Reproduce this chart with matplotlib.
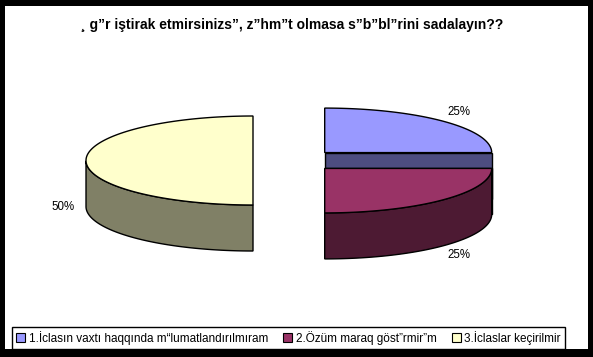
import numpy as np
import matplotlib
matplotlib.use("Agg")
import matplotlib.pyplot as plt
from matplotlib.patches import Polygon, Rectangle, Patch

plt.rcParams['font.family'] = ['Liberation Sans', 'DejaVu Sans']

# data
title = "¸ g”r iştirak etmirsinizs”, z”hm”t olmasa s”b”bl”rini sadalayın??"
labels = ["1.İclasın vaxtı haqqında m“lumatlandırılmıram",
          "2.Özüm maraq göst”rmir”m",
          "3.İclaslar keçirilmir"]
values = [25, 25, 50]
top_colors = ["#9999FF", "#993366", "#FFFFCC"]
side_colors = ["#4D4D80", "#4D1A33", "#808066"]

# pie geometry (pixels, y down)
W, H = 593, 357
cx0, cy0 = 295, 160.5
a, b = 167, 44.5
depth = 46
explode = 42

fig = plt.figure(figsize=(W / 100, H / 100), dpi=100, facecolor="black")
ax = fig.add_axes([0, 0, 1, 1])
ax.set_xlim(0, W)
ax.set_ylim(H, 0)
ax.axis("off")
ax.add_patch(Rectangle((5, 6), 583, 343, facecolor="white", edgecolor="none", zorder=0))

ax.text(292, 25, title, ha="center", va="center", fontsize=10, fontweight="bold")


def pt(cx, cy, th, dy=0):
    return (cx + a * np.cos(th), cy - b * np.sin(th) + dy)


total = sum(values)
start = 90.0
slices = []
for i, v in enumerate(values):
    sweep = 360.0 * v / total
    t1, t2 = start - sweep, start  # clockwise from 12 o'clock
    mid = np.radians((t1 + t2) / 2)
    cx = cx0 + explode * np.cos(mid)
    cy = cy0 - explode * np.sin(mid) * b / a
    slices.append((i, np.radians(t1), np.radians(t2), mid, cx, cy))
    start = t1

# draw back slices first (those whose centre sits higher)
for i, t1, t2, mid, cx, cy in sorted(slices, key=lambda s: s[5]):
    # radial face along the 0 deg cut, facing the viewer
    for th, sgn in ((t1, 1), (t2, -1)):
        if abs(np.sin(th)) < 1e-9 and np.cos(th) > 0 and sgn * np.sin(mid) > 0:
            p = pt(cx, cy, th)
            face = [(cx, cy), p, (p[0], p[1] + depth), (cx, cy + depth)]
            ax.add_patch(Polygon(face, closed=True, facecolor=side_colors[i],
                                 edgecolor="black", lw=1, zorder=2))
    # outer wall on the front half
    ths = np.linspace(t1, t2, 200)
    ths = ths[np.sin(ths) <= 1e-9]
    if len(ths) > 1:
        top = [pt(cx, cy, t) for t in ths]
        bot = [pt(cx, cy, t, depth) for t in ths[::-1]]
        ax.add_patch(Polygon(top + bot, closed=True, facecolor=side_colors[i],
                             edgecolor="black", lw=1, zorder=2))
    # top face
    arc = [pt(cx, cy, t) for t in np.linspace(t1, t2, 200)]
    ax.add_patch(Polygon([(cx, cy)] + arc, closed=True, facecolor=top_colors[i],
                         edgecolor="black", lw=1, zorder=3))
    # percentage label
    ly = cy - 1.3 * b * np.sin(mid) + (depth if np.sin(mid) <= 1e-9 else 0)
    lx = cx + 1.14 * a * np.cos(mid)
    ax.text(lx, ly, f"{values[i] / total * 100:.0f}%", ha="center", va="center",
            fontsize=8.3, zorder=4)

handles = [Patch(facecolor=c, edgecolor="black", lw=0.8) for c in top_colors]
ax.legend(handles, labels, loc="lower left", bbox_to_anchor=(12, 349),
          bbox_transform=ax.transData, ncol=3, fontsize=8.5, frameon=True,
          fancybox=False, edgecolor="black", framealpha=1, borderaxespad=0,
          handlelength=0.75, handleheight=0.75, handletextpad=0.3,
          columnspacing=1.3, borderpad=0.35)

fig.savefig("out.png", dpi=100, facecolor="black")
